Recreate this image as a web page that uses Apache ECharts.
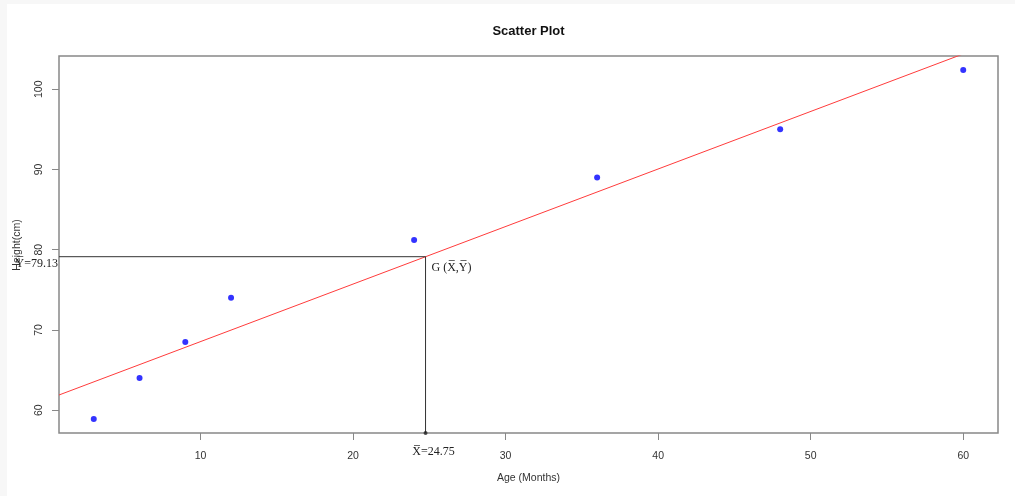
<!DOCTYPE html>
<html>
<head>
<meta charset="utf-8">
<script src="https://cdn.jsdelivr.net/npm/echarts@6/dist/echarts.min.js"></script>
<style>
  html, body { margin: 0; padding: 0; width: 1015px; height: 496px; overflow: hidden; background: #f7f7f7; }
  #chart { position: absolute; left: 7px; top: 4px; width: 1008px; height: 492px; background: #ffffff; }
</style>
</head>
<body>
<div id="chart"></div>
<script>
// Age (months) vs height (cm) measurements
const ageMonths = [3, 6, 9, 12, 24, 36, 48, 60];
const heightCm = [58.9, 64, 68.5, 74, 81.2, 89, 95, 102.4];

// Tick labels
const xTicks = [10, 20, 30, 40, 50, 60];
const yTicks = [60, 70, 80, 90, 100];

// Centroid G and fitted least-squares line
const meanAge = 24.75;
const meanHeight = 79.13;
const fitIntercept = 61.38;
const fitSlope = 0.717;

// Axis extents
const xRange = [0.72, 62.28];
const yRange = [57.16, 104.14];

const sans = "'Liberation Sans', Arial, sans-serif";
const serif = "'Liberation Serif', 'Times New Roman', serif";
const OL = '\u0305';

const chart = echarts.init(document.getElementById('chart'), null, { renderer: 'canvas' });

const fitLine = [
  [xRange[0], fitIntercept + fitSlope * xRange[0]],
  [xRange[1], fitIntercept + fitSlope * xRange[1]]
];
const guide = [
  [xRange[0], meanHeight],
  [meanAge, meanHeight],
  [meanAge, yRange[0]]
];

chart.setOption({
  animation: false,
  grid: {
    show: true, left: 52, top: 52, width: 939, height: 377,
    borderColor: '#888', borderWidth: 1.5, backgroundColor: 'transparent'
  },
  xAxis: {
    type: 'value', min: xRange[0], max: xRange[1],
    axisLine: { show: false },
    splitLine: { show: false },
    axisTick: { show: true, customValues: xTicks, length: 7, lineStyle: { color: '#888', width: 1 } },
    axisLabel: { customValues: xTicks, margin: 18, fontSize: 10.5, color: '#333', fontFamily: sans }
  },
  yAxis: {
    type: 'value', min: yRange[0], max: yRange[1],
    axisLine: { show: false },
    splitLine: { show: false },
    axisTick: { show: true, customValues: yTicks, length: 7, lineStyle: { color: '#888', width: 1 } },
    axisLabel: { customValues: yTicks, margin: 14, rotate: 90, fontSize: 10.5, color: '#333', fontFamily: sans }
  },
  series: [
    {
      type: 'line', data: fitLine, symbol: 'none', clip: true,
      lineStyle: { color: '#ff3b3b', width: 1 }, z: 2
    },
    {
      type: 'line', data: guide, symbol: 'none', clip: true,
      lineStyle: { color: '#333', width: 1 }, z: 3
    },
    {
      type: 'scatter', data: [[meanAge, yRange[0]]], symbolSize: 4,
      itemStyle: { color: '#222' }, z: 4
    },
    {
      type: 'scatter', data: ageMonths.map((a, i) => [a, heightCm[i]]),
      symbolSize: 6, itemStyle: { color: '#0000ff' }, z: 5
    }
  ]
});

const pG = chart.convertToPixel({ gridIndex: 0 }, [meanAge, meanHeight]);
const pX = chart.convertToPixel({ gridIndex: 0 }, [meanAge, yRange[0]]);
const pY = chart.convertToPixel({ gridIndex: 0 }, [xRange[0], meanHeight]);

chart.setOption({
  graphic: [
    { type: 'text', x: 521.5, y: 27, style: { text: 'Scatter Plot', font: "bold 13px " + sans, fill: '#111', textAlign: 'center', textVerticalAlign: 'middle' } },
    { type: 'text', x: 521.5, y: 474, style: { text: 'Age (Months)', font: "10.5px " + sans, fill: '#333', textAlign: 'center', textVerticalAlign: 'middle' } },
    { type: 'text', x: 10, y: 241, rotation: Math.PI / 2, style: { text: 'Height(cm)', font: "10.5px " + sans, fill: '#333', textAlign: 'center', textVerticalAlign: 'middle' } },
    { type: 'text', x: pY[0] - 1, y: pY[1] + 7, style: { text: 'Y' + OL + '=' + meanHeight.toFixed(2), font: "12px " + serif, fill: '#222', textAlign: 'right', textVerticalAlign: 'middle' } },
    { type: 'text', x: pG[0] + 6, y: pG[1] + 11, style: { text: 'G (X' + OL + ',Y' + OL + ')', font: "12px " + serif, fill: '#222', textAlign: 'left', textVerticalAlign: 'middle' } },
    { type: 'text', x: pX[0] + 8, y: pX[1] + 19, style: { text: 'X' + OL + '=' + meanAge.toFixed(2), font: "12px " + serif, fill: '#222', textAlign: 'center', textVerticalAlign: 'middle' } }
  ]
});
</script>
</body>
</html>
